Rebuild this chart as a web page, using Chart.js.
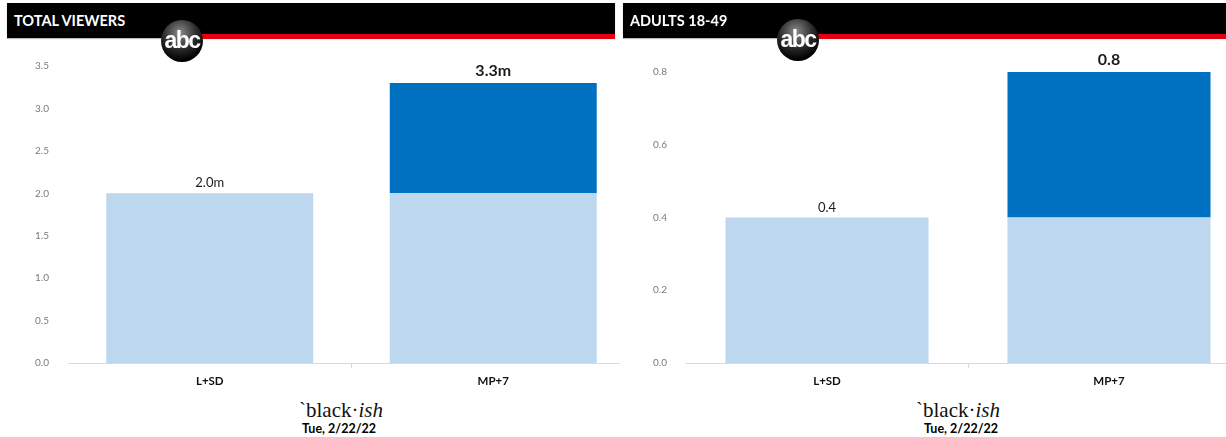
<!DOCTYPE html>
<html>
<head>
<meta charset="utf-8">
<script src="https://cdn.jsdelivr.net/npm/chart.js@4.4.1/dist/chart.umd.min.js"></script>
<style>
    body { margin: 0; width: 1226px; height: 437px; overflow: hidden; background: #fff; position: relative; font-family: Lato, "Open Sans", sans-serif; }
    .head { position: absolute; top: 3px; height: 35px; background: #000; box-shadow: 0 1px 1px #bbb; }
    .head span { position: absolute; left: 7px; top: 9px; color: #fff; font-weight: bold; font-size: 14.5px; }
    .red { position: absolute; top: 34px; height: 5px; background: #e3000f; }
    .logo { position: absolute; width: 42px; height: 42px; border-radius: 50%; z-index: 5;
        background: radial-gradient(circle at 45% 30%, #8a8a8a 0%, #2a2a2a 45%, #000 75%); }
    .logo b { position: absolute; left: -20px; right: -20px; top: 7px; text-align: center; color: #fff;
        font-family: "Liberation Sans", Arial, sans-serif; font-size: 23px; letter-spacing: -1.5px; font-weight: bold; }
    canvas { position: absolute; top: 45px; }
    #c2 { background: #fff; }
    .show { position: absolute; top: 398px; width: 200px; text-align: center; font-family: "Liberation Serif", serif; font-size: 21px; color: #111; }
    .date { position: absolute; top: 421px; width: 200px; text-align: center; font-weight: bold; font-size: 12.5px; color: #000; }
</style>
</head>
<body>
<canvas id="c1" width="636" height="348" style="left:0"></canvas>
<canvas id="c2" width="632" height="348" style="left:620px"></canvas>

<div class="head" style="left:7px;width:608px"><span>TOTAL VIEWERS</span></div>
<div class="red" style="left:182px;width:433px"></div>
<div class="logo" style="left:161px;top:20px"><b>abc</b></div>

<div class="head" style="left:623px;width:603px"><span>ADULTS 18-49</span></div>
<div class="red" style="left:798px;width:428px"></div>
<div class="logo" style="left:777px;top:19px"><b>abc</b></div>

<div class="show" style="left:241px">`black·<i>ish</i></div>
<div class="date" style="left:239px">Tue, 2/22/22</div>
<div class="show" style="left:858px">`black·<i>ish</i></div>
<div class="date" style="left:861px">Tue, 2/22/22</div>

<script>
    const categories = ['L+SD', 'MP+7'];

    // total viewers (millions): live+same day, then what MP+7 adds on top
    const viewersBase = [2.0, 2.0];
    const viewersAdded = [0, 1.3];

    // adults 18-49 rating
    const demoBase = [0.4, 0.4];
    const demoAdded = [0, 0.4];

    const lightBlue = '#bdd7ee';
    const darkBlue = '#0070c0';

    // total printed above each stack
    const totalLabels = {
        id: 'totalLabels',
        afterDatasetsDraw(chart, args, opts) {
            const ctx = chart.ctx;
            const meta = chart.getDatasetMeta(0);
            chart.data.labels.forEach((lab, i) => {
                let total = 0;
                chart.data.datasets.forEach(ds => total += ds.data[i]);
                const y = chart.scales.y.getPixelForValue(total);
                ctx.save();
                ctx.font = opts.fonts[i];
                ctx.fillStyle = '#1a1a1a';
                ctx.textAlign = 'center';
                ctx.textBaseline = 'middle';
                ctx.fillText(total.toFixed(1) + opts.suffix, meta.data[i].x, y - opts.gaps[i]);
                ctx.restore();
            });
        }
    };

    function makeChart(id, base, added, max, step, suffix, padTop, yWidth, padRight, barPct) {
        return new Chart(document.getElementById(id), {
            type: 'bar',
            data: {
                labels: categories,
                datasets: [
                    { data: base, backgroundColor: lightBlue, barPercentage: barPct, categoryPercentage: 1 },
                    { data: added, backgroundColor: darkBlue, barPercentage: barPct, categoryPercentage: 1 }
                ]
            },
            options: {
                responsive: false,
                animation: false,
                layout: { padding: { top: padTop, right: padRight, left: 0, bottom: 0 } },
                plugins: {
                    legend: { display: false },
                    tooltip: { enabled: false },
                    totalLabels: {
                        suffix: suffix,
                        gaps: [10, 12],
                        fonts: ['13px Lato, sans-serif', 'bold 16px Lato, sans-serif']
                    }
                },
                scales: {
                    x: {
                        stacked: true,
                        grid: {
                            display: true,
                            drawOnChartArea: false,
                            tickLength: 5,
                            // only the divider between the two categories gets a tick
                            color: c => c.index === 0 ? 'rgba(0,0,0,0)' : '#d9d9d9'
                        },
                        border: { color: '#d9d9d9' },
                        ticks: { color: '#111', padding: 6, font: { family: 'Lato', size: 11.5, weight: 'bold' } },
                        afterFit: s => { s.height = 30; }
                    },
                    y: {
                        stacked: true,
                        min: 0,
                        max: max,
                        grid: { display: false },
                        border: { display: false },
                        ticks: {
                            stepSize: step,
                            padding: 11,
                            color: '#7a7a7a',
                            font: { family: 'Lato', size: 10 },
                            callback: v => v.toFixed(1)
                        },
                        afterFit: s => { s.width = yWidth; }
                    }
                }
            },
            plugins: [totalLabels]
        });
    }

    makeChart('c1', viewersBase, viewersAdded, 3.5, 0.5, 'm', 21, 68, 1, 0.73);
    makeChart('c2', demoBase, demoAdded, 0.8, 0.2, '', 27, 66, 2, 0.72);
</script>
</body>
</html>
